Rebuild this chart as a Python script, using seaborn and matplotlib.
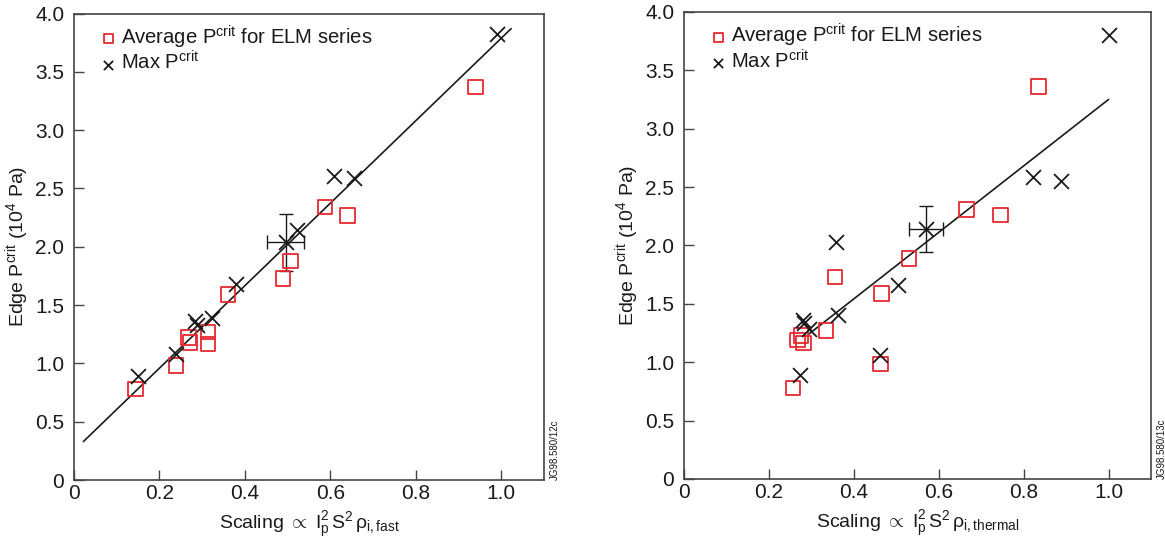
import matplotlib
matplotlib.use("Agg")
import matplotlib.pyplot as plt
import numpy as np
import pandas as pd
import seaborn as sns

sns.set_style("ticks")
plt.rcParams["font.family"] = ["Liberation Sans", "DejaVu Sans"]
plt.rcParams["mathtext.fontset"] = "custom"
plt.rcParams["mathtext.rm"] = "Liberation Sans"
plt.rcParams["mathtext.it"] = "Liberation Sans"
plt.rcParams["mathtext.bf"] = "Liberation Sans:bold"

# ---- left panel: fast-ion gyroradius scaling ----
fast_avg_x = [0.144, 0.239, 0.268, 0.272, 0.314, 0.314, 0.360, 0.489, 0.507, 0.587, 0.640, 0.939]
fast_avg_y = [0.78, 0.98, 1.22, 1.18, 1.27, 1.165, 1.59, 1.73, 1.877, 2.34, 2.27, 3.37]
fast_max_x = [0.149, 0.239, 0.283, 0.287, 0.322, 0.379, 0.495, 0.521, 0.609, 0.656, 0.991]
fast_max_y = [0.894, 1.08, 1.36, 1.33, 1.39, 1.68, 2.04, 2.14, 2.61, 2.59, 3.82]
fast_err_x, fast_err_y = 0.495, 2.04
fast_err_dx, fast_err_dy = 0.043, 0.245
fast_fit_x = [0.022, 1.023]
fast_fit_y = [0.33, 3.87]

# ---- right panel: thermal-ion gyroradius scaling ----
therm_avg_x = [0.257, 0.268, 0.276, 0.282, 0.335, 0.356, 0.463, 0.465, 0.530, 0.665, 0.745, 0.835]
therm_avg_y = [0.78, 1.19, 1.227, 1.164, 1.27, 1.73, 0.985, 1.587, 1.886, 2.31, 2.26, 3.36]
therm_max_x = [0.274, 0.281, 0.283, 0.294, 0.359, 0.363, 0.463, 0.505, 0.571, 0.821, 0.889, 1.000]
therm_max_y = [0.887, 1.36, 1.34, 1.287, 2.03, 1.40, 1.064, 1.66, 2.14, 2.59, 2.55, 3.80]
therm_err_x, therm_err_y = 0.571, 2.14
therm_err_dx, therm_err_dy = 0.040, 0.195
therm_fit_x = [0.294, 1.0]
therm_fit_y = [1.24, 3.25]

x_ticks = [0, 0.2, 0.4, 0.6, 0.8, 1.0]
x_ticklabels = ["0", "0.2", "0.4", "0.6", "0.8", "1.0"]
y_ticks = [0, 0.5, 1.0, 1.5, 2.0, 2.5, 3.0, 3.5, 4.0]
y_ticklabels = ["0", "0.5", "1.0", "1.5", "2.0", "2.5", "3.0", "3.5", "4.0"]

RED = "#e8282f"
INK = "#1a1a1a"
FRAME = "#444444"

fig = plt.figure(figsize=(11.65, 5.4), dpi=100)
ax1 = fig.add_axes([0.0635, 0.111, 0.4035, 0.864])
ax2 = fig.add_axes([0.587, 0.113, 0.401, 0.865])


def draw_panel(ax, avg_x, avg_y, max_x, max_y, ex, ey, edx, edy, fx, fy, xlabel, tag):
    avg = pd.DataFrame({"x": avg_x, "y": avg_y})
    mx = pd.DataFrame({"x": max_x, "y": max_y})
    ax.plot(fx, fy, color=INK, lw=1.2, zorder=2)
    ax.errorbar(ex, ey, xerr=edx, yerr=edy, fmt="none", ecolor=INK,
                elinewidth=1.0, capsize=5, capthick=1.0, zorder=2)
    sns.scatterplot(data=avg, x="x", y="y", ax=ax, marker="s", s=110,
                    facecolor="none", edgecolor=RED, linewidth=1.3,
                    zorder=3, label=r"Average P$^{\rm crit}$ for ELM series")
    sns.scatterplot(data=mx, x="x", y="y", ax=ax, marker="x", s=115,
                    color=INK, linewidth=1.3, zorder=4, label=r"Max P$^{\rm crit}$")
    ax.set_xlim(0, 1.1)
    ax.set_ylim(0, 4.0)
    ax.set_xticks(x_ticks)
    ax.set_xticklabels(x_ticklabels)
    ax.set_yticks(y_ticks)
    ax.set_yticklabels(y_ticklabels)
    ax.tick_params(direction="in", length=7, width=1.0, colors=FRAME,
                   labelcolor=INK, labelsize=15)
    ax.tick_params(axis="y", pad=7)
    ax.tick_params(axis="x", pad=3)
    for sp in ax.spines.values():
        sp.set_color(FRAME)
        sp.set_linewidth(1.2)
    ax.set_xlabel(xlabel, fontsize=14, color=INK, labelpad=5)
    ax.set_ylabel(r"Edge P$^{\rm crit}$ (10$^4$ Pa)", fontsize=14, color=INK, labelpad=3)
    leg = ax.legend(loc="upper left", bbox_to_anchor=(0.032, 0.996), frameon=False,
                    fontsize=14.6, handletextpad=0.1, handlelength=1.1,
                    borderaxespad=0.0, labelspacing=0.0, markerscale=0.62,
                    borderpad=0.4)
    for t in leg.get_texts():
        t.set_color(INK)
    ax.text(1.012, 0.0, tag, transform=ax.transAxes, rotation=90,
            ha="left", va="bottom", fontsize=7, color=INK)


draw_panel(ax1, fast_avg_x, fast_avg_y, fast_max_x, fast_max_y,
           fast_err_x, fast_err_y, fast_err_dx, fast_err_dy,
           fast_fit_x, fast_fit_y,
           r"Scaling $\propto$ I$_{\rm p}^{2}$$\,$S$^{2}$$\,\rho_{\rm i,fast}$", "JG98.580/12c")
draw_panel(ax2, therm_avg_x, therm_avg_y, therm_max_x, therm_max_y,
           therm_err_x, therm_err_y, therm_err_dx, therm_err_dy,
           therm_fit_x, therm_fit_y,
           r"Scaling $\propto$ I$_{\rm p}^{2}$$\,$S$^{2}$$\,\rho_{\rm i,thermal}$", "JG98.580/13c")

fig.savefig("out.png", dpi=100)
